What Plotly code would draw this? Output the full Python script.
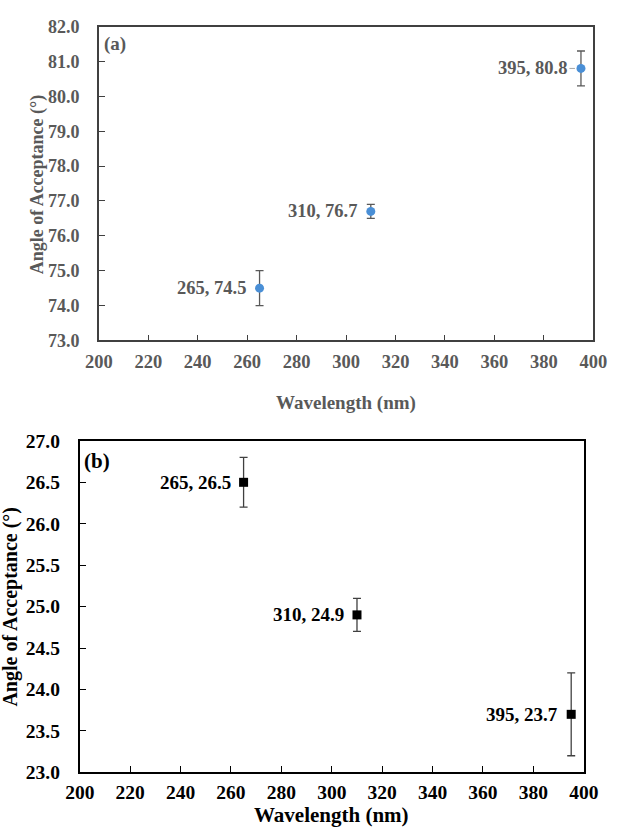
import plotly.graph_objects as go

W, H = 635, 835

# Panel (a)
wl_a = [265, 310, 395]
ang_a = [74.5, 76.7, 80.8]
err_a = [0.5, 0.2, 0.5]
lab_a = ["265, 74.5", "310, 76.7", "395, 80.8"]

# Panel (b)
wl_b = [265, 310, 395]
ang_b = [26.5, 24.9, 23.7]
err_b = [0.3, 0.2, 0.5]
lab_b = ["265, 26.5", "310, 24.9", "395, 23.7"]

x_ticks = [200, 220, 240, 260, 280, 300, 320, 340, 360, 380, 400]
ya_ticks = [73, 74, 75, 76, 77, 78, 79, 80, 81, 82]
yb_ticks = [23.0, 23.5, 24.0, 24.5, 25.0, 25.5, 26.0, 26.5, 27.0]

GRAY = "#595959"
FONT = "Liberation Serif"

def px_x(p):
    return p / W

def px_y(p):
    return 1 - p / H

fig = go.Figure()

fig.add_trace(go.Scatter(
    x=wl_a, y=ang_a, mode="markers",
    marker=dict(symbol="circle", size=9, color="#4A8FD6"),
    error_y=dict(type="data", array=err_a, visible=True, color=GRAY, thickness=1.3, width=4),
    xaxis="x", yaxis="y", showlegend=False, cliponaxis=False,
))

fig.add_trace(go.Scatter(
    x=wl_b, y=ang_b, mode="markers",
    marker=dict(symbol="square", size=9, color="black"),
    error_y=dict(type="data", array=err_b, visible=True, color="#404040", thickness=1.3, width=4),
    xaxis="x2", yaxis="y2", showlegend=False, cliponaxis=False,
))

axis_common = dict(showgrid=False, zeroline=False, mirror=True, ticks="inside", ticklen=6)

annotations = [
    dict(text="(a)", x=px_x(91), y=px_y(35), xref="paper", yref="paper",
         xanchor="left", yanchor="middle", showarrow=False,
         font=dict(family=FONT, size=19, color=GRAY, weight="bold")),
    dict(text="(b)", x=px_x(70), y=px_y(463), xref="paper", yref="paper",
         xanchor="left", yanchor="middle", showarrow=False,
         font=dict(family=FONT, size=21, color="black", weight="bold")),
    dict(text="Wavelength (nm)", x=px_x(347), y=px_y(403), xref="paper", yref="paper",
         xanchor="center", yanchor="middle", showarrow=False,
         font=dict(family=FONT, size=19, color=GRAY, weight="bold")),
    dict(text="Wavelength (nm)", x=px_x(332), y=px_y(826), xref="paper", yref="paper",
         xanchor="center", yanchor="middle", showarrow=False,
         font=dict(family=FONT, size=21, color="black", weight="bold")),
    dict(text="Angle of Acceptance (°)", x=px_x(24), y=px_y(179), xref="paper", yref="paper",
         xanchor="center", yanchor="middle", showarrow=False, textangle=-90,
         font=dict(family=FONT, size=18, color=GRAY, weight="bold")),
    dict(text="Angle of Acceptance (°)", x=px_x(0), y=px_y(612), xref="paper", yref="paper",
         xanchor="center", yanchor="middle", showarrow=False, textangle=-90, xshift=-4,
         font=dict(family=FONT, size=20, color="black", weight="bold")),
    # short leader line next to the last point of panel (a)
    dict(text="", x=wl_a[2], y=ang_a[2], xref="x", yref="y", showarrow=True,
         ax=-13, ay=0, axref="pixel", ayref="pixel", arrowhead=0, arrowwidth=1,
         arrowcolor="#A6A6A6", standoff=6),
]

for xv, yv, t in zip(wl_a, ang_a, lab_a):
    annotations.append(dict(text=t, x=xv, y=yv, xref="x", yref="y",
                            xanchor="right", yanchor="middle", xshift=-12, showarrow=False,
                            font=dict(family=FONT, size=18.5, color=GRAY, weight="bold")))
for xv, yv, t in zip(wl_b, ang_b, lab_b):
    annotations.append(dict(text=t, x=xv, y=yv, xref="x2", yref="y2",
                            xanchor="right", yanchor="middle", xshift=-11, showarrow=False,
                            font=dict(family=FONT, size=19, color="black", weight="bold")))

fig.update_layout(
    width=W, height=H,
    margin=dict(l=0, r=0, t=0, b=0),
    paper_bgcolor="white", plot_bgcolor="white",
    xaxis=dict(**axis_common, domain=[px_x(88), px_x(607)], range=[200, 400],
               tickvals=x_ticks, ticktext=[str(v) for v in x_ticks],
               linecolor="#404040", linewidth=1.5, tickcolor="#404040", tickwidth=1,
               tickfont=dict(family=FONT, size=18.5, color=GRAY, weight="bold"),
               ticklabelstandoff=4, anchor="y"),
    yaxis=dict(**axis_common, domain=[px_y(339), px_y(17)], range=[73, 82],
               tickvals=ya_ticks, ticktext=[f"{v:.1f}" for v in ya_ticks],
               linecolor="#404040", linewidth=1.5, tickcolor="#404040", tickwidth=1,
               tickfont=dict(family=FONT, size=18, color=GRAY, weight="bold"),
               ticklabelstandoff=14, anchor="x"),
    xaxis2=dict(**axis_common, domain=[px_x(68), px_x(597)], range=[200, 400],
                tickvals=x_ticks, ticktext=[str(v) for v in x_ticks],
                linecolor="black", linewidth=2, tickcolor="black", tickwidth=1,
                tickfont=dict(family=FONT, size=19.5, color="black", weight="bold"),
                ticklabelstandoff=1, anchor="y2"),
    yaxis2=dict(**axis_common, domain=[px_y(782), px_y(442)], range=[23, 27],
                tickvals=yb_ticks, ticktext=[f"{v:.1f}" for v in yb_ticks],
                linecolor="black", linewidth=2, tickcolor="black", tickwidth=1,
                tickfont=dict(family=FONT, size=19.5, color="black", weight="bold"),
                ticklabelstandoff=14, anchor="x2"),
    annotations=annotations,
)

fig.write_html("out.html")
